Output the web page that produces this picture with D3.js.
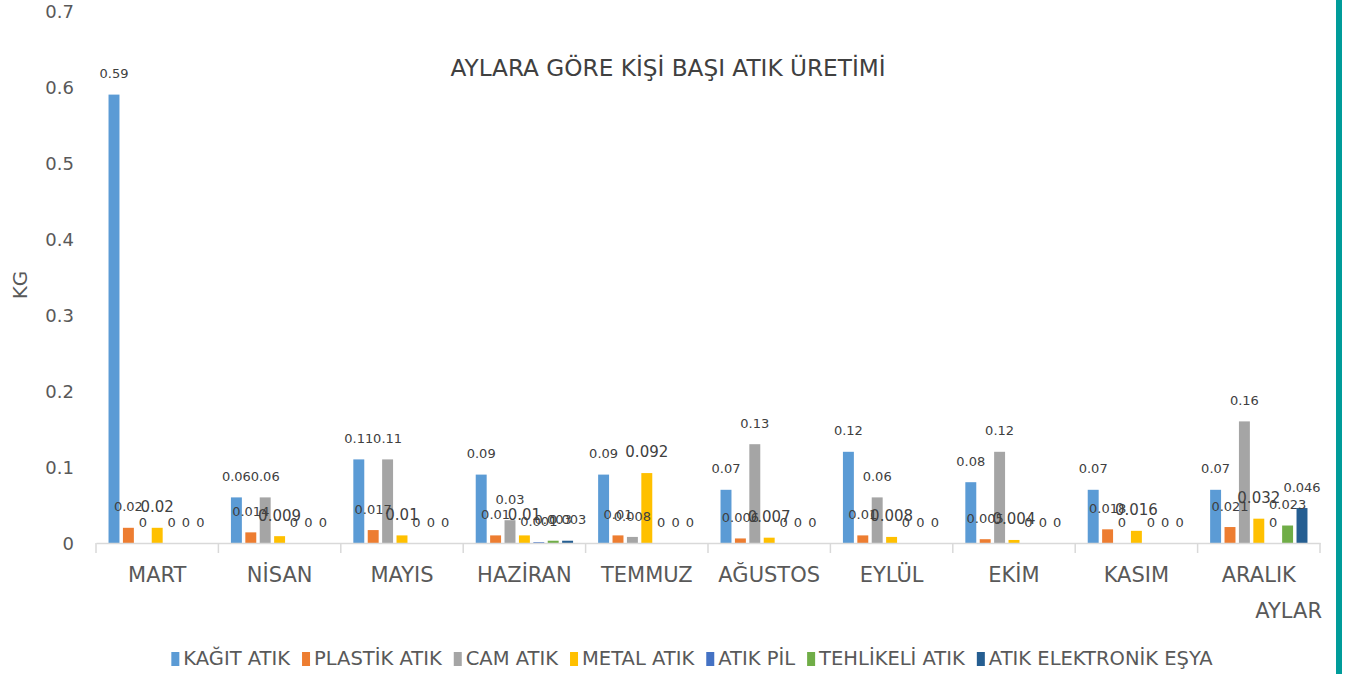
<!DOCTYPE html>
<html>
<head>
<meta charset="utf-8">
<script src="https://cdn.jsdelivr.net/npm/d3@7"></script>
<style>
  body { margin: 0; background: #fff; }
  svg { font-family: "DejaVu Sans", "Open Sans", sans-serif; }
</style>
</head>
<body>
<div class="chart"></div>
<script>
var months = ["MART", "NİSAN", "MAYIS", "HAZİRAN", "TEMMUZ", "AĞUSTOS", "EYLÜL", "EKİM", "KASIM", "ARALIK"];
var seriesNames = ["KAĞIT ATIK", "PLASTİK ATIK", "CAM ATIK", "METAL ATIK", "ATIK PİL", "TEHLİKELİ ATIK", "ATIK ELEKTRONİK EŞYA"];
var seriesColors = ["#5B9BD5", "#ED7D31", "#A5A5A5", "#FFC000", "#4472C4", "#70AD47", "#255E91"];

// one array per series, in month order
var kagit     = [0.59, 0.06, 0.11, 0.09, 0.09, 0.07, 0.12, 0.08, 0.07, 0.07];
var plastik   = [0.02, 0.014, 0.017, 0.01, 0.01, 0.006, 0.01, 0.005, 0.018, 0.021];
var cam       = [0, 0.06, 0.11, 0.03, 0.008, 0.13, 0.06, 0.12, 0, 0.16];
var metal     = [0.02, 0.009, 0.01, 0.01, 0.092, 0.007, 0.008, 0.004, 0.016, 0.032];
var pil       = [0, 0, 0, 0.001, 0, 0, 0, 0, 0, 0];
var tehlikeli = [0, 0, 0, 0.003, 0, 0, 0, 0, 0, 0.023];
var elektronik= [0, 0, 0, 0.003, 0, 0, 0, 0, 0, 0.046];
var seriesValues = [kagit, plastik, cam, metal, pil, tehlikeli, elektronik];

var yTicks = [0, 0.1, 0.2, 0.3, 0.4, 0.5, 0.6, 0.7];

var width = 1352, height = 674;
var svg = d3.select(".chart").append("svg")
    .attr("width", width)
    .attr("height", height);

var plot = {left: 96, right: 1320, top: 11, bottom: 543};

var x0 = d3.scaleBand()
    .domain(months)
    .range([plot.left, plot.right])
    .padding(0);

var x1 = d3.scaleBand()
    .domain(d3.range(seriesNames.length))
    .range([0, x0.bandwidth()])
    .paddingInner(0.24)
    .paddingOuter(0.87);

var y = d3.scaleLinear()
    .domain([0, 0.7])
    .range([plot.bottom, plot.top]);

// y tick labels (no axis line)
var yAxis = d3.axisLeft(y)
    .tickValues(yTicks)
    .tickFormat(function(d){ return String(+d.toFixed(1)); })
    .tickSize(0)
    .tickPadding(0);

svg.append("g")
    .attr("transform", "translate(74,0)")
    .call(yAxis)
    .call(function(g){ g.select(".domain").remove(); })
    .selectAll("text")
    .attr("fill", "#595959")
    .attr("dy", "0.36em")
    .style("font-size", "18px")
    .style("font-family", "'DejaVu Sans', sans-serif");

// bars
var groups = svg.append("g").selectAll("g")
    .data(months)
    .enter().append("g")
    .attr("transform", function(d){ return "translate(" + x0(d) + ",0)"; });

groups.selectAll("rect")
    .data(function(m, i){ return seriesValues.map(function(s, k){ return {k: k, v: s[i]}; }); })
    .enter().append("rect")
    .attr("x", function(d){ return x1(d.k); })
    .attr("width", x1.bandwidth())
    .attr("y", function(d){ return y(d.v); })
    .attr("height", function(d){ return y(0) - y(d.v); })
    .attr("fill", function(d){ return seriesColors[d.k]; });

// x axis
var xAxis = d3.axisBottom(x0).tickSize(0).tickPadding(0);
var xg = svg.append("g")
    .attr("transform", "translate(0," + plot.bottom + ")")
    .call(xAxis);
xg.select(".domain").attr("stroke", "#d9d9d9").attr("stroke-width", 1.5);
xg.selectAll("text")
    .attr("fill", "#595959")
    .attr("dy", 0)
    .attr("y", 39)
    .style("font-size", "21px")
    .style("font-family", "'DejaVu Sans', sans-serif");
// boundary tick marks between categories
xg.selectAll(".bound")
    .data(months.concat(["end"]))
    .enter().append("line")
    .attr("class", "bound")
    .attr("x1", function(d, i){ return i < months.length ? x0(d) : plot.right; })
    .attr("x2", function(d, i){ return i < months.length ? x0(d) : plot.right; })
    .attr("y1", 0)
    .attr("y2", 10)
    .attr("stroke", "#d9d9d9")
    .attr("stroke-width", 1.5);

// data labels
groups.selectAll("text.lbl")
    .data(function(m, i){ return seriesValues.map(function(s, k){ return {k: k, v: s[i]}; }); })
    .enter().append("text")
    .attr("class", "lbl")
    .attr("x", function(d){ return x1(d.k) + x1.bandwidth() / 2; })
    .attr("y", function(d){ return y(d.v) - 21; })
    .attr("dy", "0.36em")
    .attr("text-anchor", "middle")
    .attr("fill", "#404040")
    .style("font-size", function(d){ return d.k === 3 ? "15px" : "13px"; })
    .text(function(d){ return String(d.v); });

// title
svg.append("text")
    .attr("x", 668)
    .attr("y", 76)
    .attr("text-anchor", "middle")
    .attr("fill", "#404040")
    .style("font-size", "23.2px")
    .text("AYLARA GÖRE KİŞİ BAŞI ATIK ÜRETİMİ");

// axis titles
svg.append("text")
    .attr("transform", "translate(27,285) rotate(-90)")
    .attr("text-anchor", "middle")
    .attr("fill", "#595959")
    .style("font-size", "20px")
    .text("KG");

svg.append("text")
    .attr("x", 1322)
    .attr("y", 618)
    .attr("text-anchor", "end")
    .attr("fill", "#595959")
    .style("font-size", "21px")
    .text("AYLAR");

// legend
var legend = svg.append("g");
var items = legend.selectAll("g")
    .data(seriesNames)
    .enter().append("g");
items.append("rect")
    .attr("width", 8)
    .attr("height", 14)
    .attr("y", -13)
    .attr("fill", function(d, i){ return seriesColors[i]; });
items.append("text")
    .attr("x", 12)
    .attr("fill", "#595959")
    .style("font-size", "19.5px")
    .text(function(d){ return d; });
var lx = 0;
items.each(function(){
  var w = d3.select(this).select("text").node().getComputedTextLength();
  d3.select(this).attr("transform", "translate(" + lx + ",0)");
  lx += 12 + w + 12;
});
lx -= 12;
legend.attr("transform", "translate(" + (692 - lx / 2) + ",665)");

// teal border on the right
svg.append("rect")
    .attr("x", 1336)
    .attr("y", 0)
    .attr("width", 6)
    .attr("height", height)
    .attr("fill", "#009C9A");
</script>
</body>
</html>
